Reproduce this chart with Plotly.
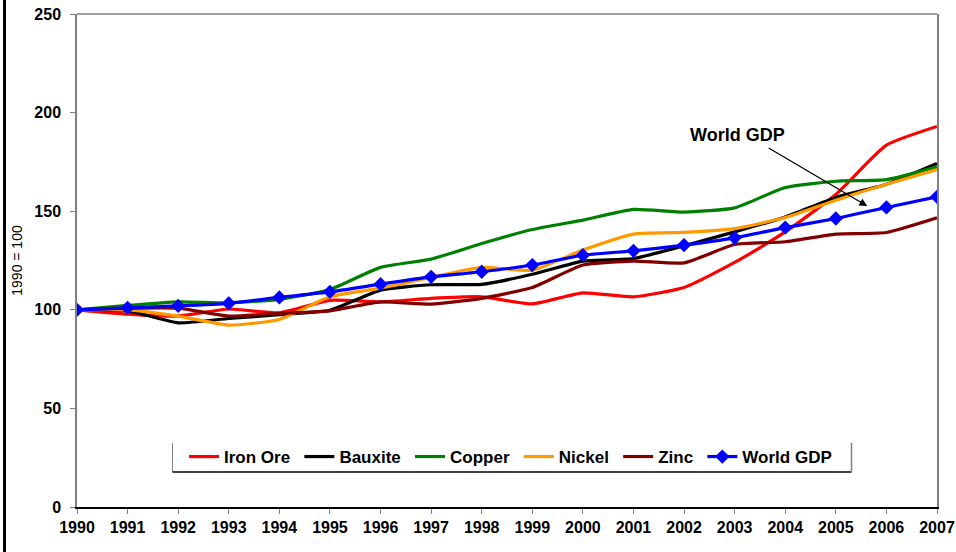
import plotly.graph_objects as go

years = list(range(1990, 2008))
iron_ore = [100, 97.8, 96.8, 100.4, 98.5, 104.8, 104, 105.8, 106.6, 103, 108.6, 106.6, 111.3, 124, 139.5, 158.5, 183.5, 193]
bauxite = [100, 99.5, 93.4, 95.6, 97.5, 99.8, 110, 112.7, 112.9, 118, 124.7, 126, 132.5, 139.5, 147.1, 157, 163.7, 174.2]
copper = [100, 102.2, 104, 103.5, 105.3, 110.3, 121.5, 125.7, 133.6, 140.7, 145.5, 150.9, 149.5, 151.7, 162, 165.2, 166, 172.5]
nickel = [100, 100, 96.8, 92.2, 95.1, 106.6, 111, 116.4, 121.5, 120.1, 130.3, 138.4, 139.3, 141.2, 146.8, 155.6, 163.7, 171.1]
zinc = [100, 100.8, 100.8, 96.8, 98.2, 99.5, 104, 102.9, 105.8, 111.3, 122.7, 124.7, 123.8, 133.1, 134.5, 138.4, 139.2, 146.6]
world_gdp = [100, 101, 102, 103.3, 106.3, 109.1, 113, 116.7, 119.3, 122.7, 127.7, 129.9, 132.8, 136.5, 141.7, 146.3, 151.9, 157.3]

series_names = ["Iron Ore", "Bauxite", "Copper", "Nickel", "Zinc", "World GDP"]
series_values = [iron_ore, bauxite, copper, nickel, zinc, world_gdp]
series_colors = ["#FF0000", "#000000", "#008000", "#FF9900", "#800000", "#0000FF"]

FONT = "Arial, 'Liberation Sans', sans-serif"
PAD = "\u2005"  # small trailing space to widen legend spacing like the original

fig = go.Figure()
for name, vals, col in zip(series_names, series_values, series_colors):
    is_gdp = name == "World GDP"
    fig.add_trace(go.Scatter(
        x=years, y=vals, name=name + ("" if is_gdp else PAD),
        mode="lines+markers" if is_gdp else "lines",
        line=dict(color=col, width=3.2, shape="spline", smoothing=0.5),
        marker=dict(symbol="diamond", size=11, color=col) if is_gdp else None,
    ))

W, H = 956, 552
PL, PR, PT, PB = 77, 937, 14, 507  # plot-area edges in page pixels
L, T = PL, PT
R = W - PR
B = H - PB
pw, ph = W - L - R, H - T - B

def px_to_paper_x(px):
    return (px - L) / pw

def py_to_paper_y(py):
    return (H - B - py) / ph

shapes = [
    # top frame line
    dict(type="line", xref="paper", yref="paper", x0=0, x1=1, y0=1, y1=1,
         line=dict(color="#808080", width=1.5)),
    # left black page border
    dict(type="line", xref="paper", yref="paper",
         x0=px_to_paper_x(4.5), x1=px_to_paper_x(4.5),
         y0=py_to_paper_y(0), y1=py_to_paper_y(H),
         line=dict(color="#000000", width=3)),
    # legend box: left, bottom, right
    dict(type="line", xref="paper", yref="paper",
         x0=px_to_paper_x(172.5), x1=px_to_paper_x(172.5),
         y0=py_to_paper_y(443), y1=py_to_paper_y(472),
         line=dict(color="#808080", width=1)),
    dict(type="line", xref="paper", yref="paper",
         x0=px_to_paper_x(172.5), x1=px_to_paper_x(851.5),
         y0=py_to_paper_y(472), y1=py_to_paper_y(472),
         line=dict(color="#000000", width=1.5)),
    dict(type="line", xref="paper", yref="paper",
         x0=px_to_paper_x(851.5), x1=px_to_paper_x(851.5),
         y0=py_to_paper_y(443), y1=py_to_paper_y(472),
         line=dict(color="#808080", width=1.5)),
]

fig.update_layout(
    width=W, height=H,
    margin=dict(l=L, r=R, t=T, b=B, autoexpand=False),
    paper_bgcolor="white", plot_bgcolor="white",
    font=dict(family=FONT, color="#000000"),
    showlegend=True,
    legend=dict(
        orientation="h",
        x=px_to_paper_x(184), xanchor="left",
        y=py_to_paper_y(439), yanchor="top",
        font=dict(family=FONT, size=17, color="#000000", weight="bold"),
        bgcolor="rgba(0,0,0,0)",
        itemwidth=30,
        tracegroupgap=0,
    ),
    xaxis=dict(
        range=[1990, 2007],
        tickmode="array", tickvals=years, ticktext=[str(y) for y in years],
        ticks="outside", ticklen=5, tickcolor="#808080",
        showline=True, linecolor="#000000", linewidth=1.5,
        showgrid=False, zeroline=False,
        ticklabeloverflow="allow",
        tickfont=dict(family=FONT, size=16, color="#000000", weight="bold"),
    ),
    yaxis=dict(
        range=[0, 250], dtick=50,
        ticks="outside", ticklen=5, tickcolor="#808080",
        showline=True, linecolor="#808080", linewidth=1.5, mirror=True,
        showgrid=False, zeroline=False,
        ticklabeloverflow="allow",
        ticklabelstandoff=6,
        tickfont=dict(family=FONT, size=16, color="#000000", weight="bold"),
        title=dict(text="1990 = 100", font=dict(family=FONT, size=14, color="#000000"), standoff=8),
    ),
    shapes=shapes,
    annotations=[
        dict(x=2003.06, y=188.5, xref="x", yref="y", text="<b>World GDP</b>",
             showarrow=False, font=dict(family=FONT, size=18, color="#000000")),
        dict(x=2005.62, y=152.6, xref="x", yref="y", text="",
             showarrow=True, ax=-100, ay=-59, arrowhead=2, arrowsize=1.2,
             arrowwidth=1.3, arrowcolor="#000000"),
    ],
)

fig.write_html(
    "out.html",
    config={"displayModeBar": False},
    post_script="document.body.style.margin='0';document.body.style.overflow='hidden';",
)
